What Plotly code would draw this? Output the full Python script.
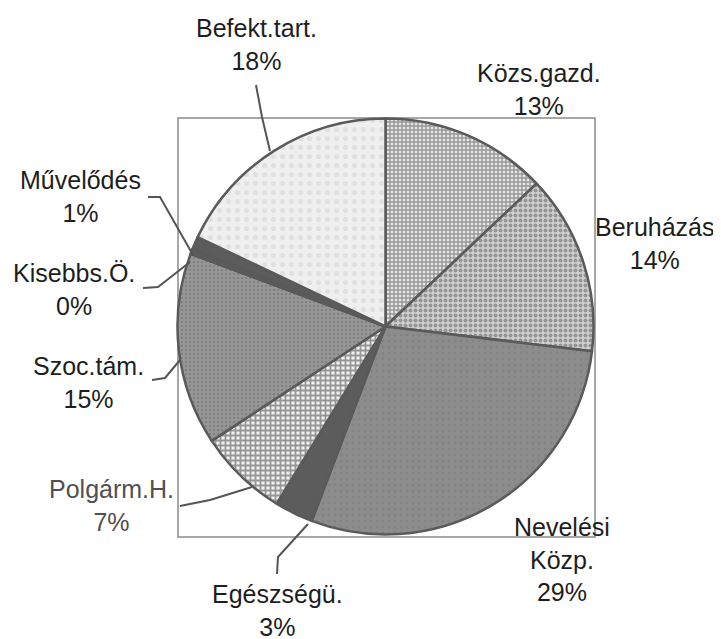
import plotly.graph_objects as go

# ---- data (clockwise from 12 o'clock) ----
categories = ["Közs.gazd.", "Beruházás", "Nevelési Közp.", "Egészségü.", "Polgárm.H.",
              "Szoc.tám.", "Kisebbs.Ö.", "Művelődés", "Befekt.tart."]
display_labels = ["Közs.gazd.", "Beruházás", "Nevelési<br>Közp.", "Egészségü.", "Polgárm.H.",
                  "Szoc.tám.", "Kisebbs.Ö.", "Művelődés", "Befekt.tart."]
values = [13, 14, 29, 3, 7, 15, 0.4, 1, 18]

# ---- styles ----
fill_colors = ["#e6e6e6", "#d0d0d0", "#8c8c8c", "#5c5c5c", "#f2f2f2",
               "#979797", "#5c5c5c", "#5c5c5c", "#efefef"]
pat_shapes = ["+", ".", ".", "", "+", ".", "", "", "."]
pat_fg = ["#4a4a4a", "#5a5a5a", "#7a7a7a", "#5c5c5c", "#3a3a3a",
          "#6a6a6a", "#5c5c5c", "#5c5c5c", "#d2d2d2"]
pat_size = [4, 5, 6, 6, 5, 4, 6, 6, 9]
pat_sol = [0.6, 0.5, 0.2, 0.3, 0.6, 0.3, 0.3, 0.3, 0.25]

# page body has an 8px margin; compensate so positions match the reference
OFF = 8
W, H = 721, 639
def px(x):
    return (x - OFF) / W
def py(y):
    return 1 - (y - OFF) / H

cx, cy, r = 385.5, 326.5, 208

fig = go.Figure()
fig.add_trace(go.Pie(
    labels=categories, values=values, sort=False, direction="clockwise", rotation=0,
    textinfo="none", hoverinfo="label+percent", showlegend=False,
    domain=dict(x=[px(cx - r), px(cx + r)], y=[py(cy + r), py(cy - r)]),
    marker=dict(colors=fill_colors,
                line=dict(color="#5a5a5a", width=2.5),
                pattern=dict(shape=pat_shapes, fgcolor=pat_fg, size=pat_size,
                             solidity=pat_sol, fillmode="overlay")),
))

# label block centres (pixels) and text colours
label_pos = [(539, 89), (655, 243), (562, 559), (277, 610), (111, 505),
             (88, 382), (74, 289), (80, 196), (256, 45)]
label_col = ["#1e1e1e", "#1e1e1e", "#1e1e1e", "#1e1e1e", "#505050",
             "#1e1e1e", "#1e1e1e", "#1e1e1e", "#1e1e1e"]

total = sum(values)
for lab, v, (x, y), c in zip(display_labels, values, label_pos, label_col):
    pct = round(100 * v / total)
    fig.add_annotation(x=px(x), y=py(y), xref="paper", yref="paper",
                       text=f"{lab}<br>{pct}%", showarrow=False,
                       xanchor="center", yanchor="middle", align="center",
                       font=dict(family="Arial, Liberation Sans, sans-serif", size=25, color=c))

# plot-area frame
fig.add_shape(type="rect", xref="paper", yref="paper",
              x0=px(178), x1=px(595), y0=py(537), y1=py(118),
              line=dict(color="#8a8a8a", width=1.5), layer="below")

# leader lines
leaders = [
    [(256, 85), (262, 117), (270, 151)],
    [(148, 197), (160, 197), (193, 255)],
    [(143, 288), (158, 287), (190, 262)],
    [(152, 380), (165, 378), (180, 360)],
    [(180, 506), (210, 500), (252, 487)],
    [(277, 574), (278, 557), (308, 524)],
]
for pts in leaders:
    path = "M " + " L ".join(f"{px(x)},{py(y)}" for x, y in pts)
    fig.add_shape(type="path", path=path, xref="paper", yref="paper",
                  line=dict(color="#555555", width=2))

fig.update_layout(width=W, height=H, margin=dict(l=0, r=0, t=0, b=0),
                  paper_bgcolor="white", plot_bgcolor="white")
fig.write_html("out.html")
